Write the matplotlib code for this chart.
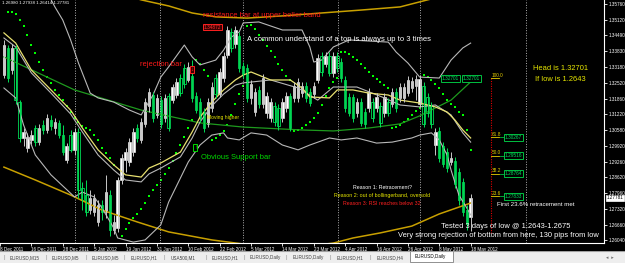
import numpy as np
import matplotlib
matplotlib.use("Agg")
import matplotlib.pyplot as plt
from matplotlib.patches import Rectangle

plt.rcParams['font.family'] = ['Liberation Sans', 'DejaVu Sans']

# EURUSD daily candles, Dec 2011 - 18 May 2012
opens = [1.3283, 1.3395, 1.3304, 1.3395, 1.3172, 1.3024, 1.2983, 1.3016, 1.3065, 1.3007,
         1.3078, 1.3057, 1.3098, 1.3065, 1.3086, 1.3036, 1.2933, 1.3036, 1.2975, 1.3049,
         1.2818, 1.2789, 1.2727, 1.2719, 1.2678, 1.2748, 1.2719, 1.2789, 1.2645, 1.2653,
         1.2851, 1.2933, 1.2925, 1.2966, 1.3065, 1.3016, 1.3082, 1.3156, 1.3201, 1.3119,
         1.3180, 1.3106, 1.3197, 1.3180, 1.3201, 1.3271, 1.3312, 1.3263, 1.3279, 1.3197,
         1.3172, 1.3131, 1.3082, 1.3148, 1.3271, 1.3205, 1.3271, 1.3366, 1.3461, 1.3411,
         1.3444, 1.3321, 1.3312, 1.3189, 1.3131, 1.3222, 1.3164, 1.3127, 1.3106, 1.3156,
         1.3148, 1.3106, 1.3148, 1.3197, 1.3189, 1.3189, 1.3209, 1.3238, 1.3213, 1.3205,
         1.3263, 1.3362, 1.3329, 1.3362, 1.3292, 1.3362, 1.3337, 1.3263, 1.3193, 1.3193,
         1.3127, 1.3172, 1.3131, 1.3148, 1.3172, 1.3148, 1.3156, 1.3127, 1.3172, 1.3164,
         1.3213, 1.3189, 1.3189, 1.3209, 1.3230, 1.3238, 1.3164, 1.3238, 1.3193, 1.3156,
         1.2995, 1.3053, 1.2991, 1.2966, 1.2925, 1.2929, 1.2884, 1.2843, 1.2727, 1.26980]
highs = [1.3428, 1.3407, 1.3411, 1.3407, 1.3180, 1.3065, 1.3045, 1.3057, 1.3078, 1.3082,
         1.3098, 1.3123, 1.3119, 1.3106, 1.3098, 1.3078, 1.3003, 1.3057, 1.3065, 1.3065,
         1.2843, 1.2851, 1.2810, 1.2793, 1.2769, 1.2769, 1.2872, 1.2810, 1.2707, 1.2863,
         1.2958, 1.2983, 1.3024, 1.3065, 1.3082, 1.3106, 1.3189, 1.3230, 1.3213, 1.3205,
         1.3197, 1.3205, 1.3209, 1.3246, 1.3271, 1.3288, 1.3329, 1.3337, 1.3345, 1.3213,
         1.3189, 1.3148, 1.3189, 1.3255, 1.3288, 1.3312, 1.3378, 1.3485, 1.3477, 1.3487,
         1.3461, 1.3337, 1.3329, 1.3263, 1.3230, 1.3238, 1.3288, 1.3213, 1.3189, 1.3172,
         1.3164, 1.3189, 1.3213, 1.3209, 1.3255, 1.3271, 1.3255, 1.3255, 1.3230, 1.3255,
         1.3370, 1.3378, 1.3378, 1.3378, 1.3378, 1.3378, 1.3354, 1.3279, 1.3209, 1.3205,
         1.3189, 1.3189, 1.3148, 1.3230, 1.3189, 1.3209, 1.3172, 1.3209, 1.3189, 1.3230,
         1.3230, 1.3251, 1.3251, 1.3279, 1.3275, 1.3283, 1.3283, 1.3255, 1.3209, 1.3172,
         1.3065, 1.3069, 1.3007, 1.2983, 1.2966, 1.2946, 1.2900, 1.2859, 1.2748, 1.27938]
lows = [1.3271, 1.3255, 1.3288, 1.3164, 1.3007, 1.2991, 1.2966, 1.2999, 1.2991, 1.2995,
        1.3040, 1.3045, 1.3057, 1.3040, 1.3024, 1.2954, 1.2921, 1.2966, 1.2954, 1.2777,
        1.2727, 1.2703, 1.2711, 1.2703, 1.2661, 1.2686, 1.2694, 1.2620, 1.2628, 1.2637,
        1.2834, 1.2884, 1.2909, 1.2950, 1.3007, 1.3003, 1.3069, 1.3131, 1.3090, 1.3106,
        1.3065, 1.3090, 1.3053, 1.3168, 1.3189, 1.3197, 1.3230, 1.3255, 1.3172, 1.3127,
        1.3090, 1.3049, 1.3069, 1.3131, 1.3189, 1.3193, 1.3255, 1.3354, 1.3378, 1.3395,
        1.3296, 1.3271, 1.3172, 1.3164, 1.3115, 1.3148, 1.3148, 1.3106, 1.3090, 1.3073,
        1.3057, 1.3090, 1.3131, 1.3053, 1.3172, 1.3172, 1.3193, 1.3172, 1.3156, 1.3189,
        1.3251, 1.3279, 1.3316, 1.3279, 1.3275, 1.3296, 1.3255, 1.3131, 1.3115, 1.3090,
        1.3110, 1.3073, 1.3065, 1.3131, 1.3090, 1.3131, 1.3069, 1.3110, 1.3115, 1.3152,
        1.3131, 1.3172, 1.3172, 1.3197, 1.3213, 1.3180, 1.3152, 1.3069, 1.3110, 1.3065,
        1.2954, 1.2925, 1.2904, 1.2884, 1.2913, 1.2818, 1.2748, 1.2703, 1.2645, 1.26414]
closes = [1.3407, 1.3271, 1.3395, 1.3180, 1.3024, 1.3049, 1.3028, 1.3036, 1.3007, 1.3065,
          1.3057, 1.3106, 1.3073, 1.3090, 1.3036, 1.2966, 1.2991, 1.2975, 1.3049, 1.2810,
          1.2769, 1.2719, 1.2777, 1.2777, 1.2748, 1.2719, 1.2801, 1.2645, 1.2678, 1.2851,
          1.2942, 1.2966, 1.3007, 1.3049, 1.3024, 1.3090, 1.3172, 1.3213, 1.3106, 1.3189,
          1.3082, 1.3189, 1.3065, 1.3234, 1.3255, 1.3209, 1.3246, 1.3316, 1.3189, 1.3139,
          1.3106, 1.3065, 1.3172, 1.3234, 1.3205, 1.3296, 1.3362, 1.3469, 1.3395, 1.3469,
          1.3312, 1.3288, 1.3189, 1.3246, 1.3213, 1.3164, 1.3271, 1.3197, 1.3172, 1.3090,
          1.3073, 1.3172, 1.3197, 1.3065, 1.3238, 1.3255, 1.3238, 1.3189, 1.3168, 1.3238,
          1.3354, 1.3296, 1.3362, 1.3292, 1.3362, 1.3312, 1.3271, 1.3148, 1.3127, 1.3106,
          1.3172, 1.3086, 1.3082, 1.3213, 1.3106, 1.3193, 1.3086, 1.3193, 1.3127, 1.3213,
          1.3148, 1.3234, 1.3234, 1.3263, 1.3259, 1.3267, 1.3267, 1.3082, 1.3127, 1.3082,
          1.3049, 1.2942, 1.2917, 1.2900, 1.2942, 1.2834, 1.2769, 1.2719, 1.2670, 1.27781]

# indicator lines, (bar, price)
bb_up_bars = [11, 13, 15, 17, 19, 22, 24, 28, 32, 35, 38, 40, 42, 46, 48, 50, 54, 56, 58, 60,
              61, 65, 71, 76, 78, 79, 81, 84, 88, 98, 100, 103, 106, 111, 114, 117, 119]
bb_up_vals = [1.3625, 1.3564, 1.3510, 1.3428, 1.3333, 1.3209, 1.3189, 1.3172, 1.3139, 1.3119,
              1.3201, 1.3275, 1.3317, 1.3407, 1.3358, 1.3325, 1.3345, 1.3386, 1.3440, 1.3461,
              1.3498, 1.3502, 1.3469, 1.3469, 1.3399, 1.3337, 1.3345, 1.3399, 1.3428, 1.3419,
              1.3378, 1.3333, 1.3275, 1.3271, 1.3345, 1.3395, 1.3415]
bb_low_bars = [0, 3, 5, 8, 12, 18, 20, 23, 25, 28, 29, 33, 36, 40, 42, 45, 47, 50, 53, 56,
               57, 60, 63, 67, 71, 75, 78, 83, 86, 90, 95, 99, 104, 106, 109, 111, 113, 114,
               116, 118, 119]
bb_low_vals = [1.3230, 1.3189, 1.3078, 1.2954, 1.2872, 1.2781, 1.2801, 1.2781, 1.2736, 1.2653,
               1.2612, 1.2595, 1.2604, 1.2666, 1.2760, 1.2859, 1.2925, 1.2995, 1.3036, 1.3045,
               1.3024, 1.3016, 1.3045, 1.3036, 1.2995, 1.2975, 1.2995, 1.3024, 1.3016, 1.3024,
               1.3003, 1.3007, 1.3024, 1.3036, 1.3045, 1.3016, 1.2954, 1.2892, 1.2789, 1.2736,
               1.2707]
bb_mid_bars = [0, 3, 7, 12, 17, 20, 24, 28, 31, 35, 37, 40, 45, 48, 50, 53, 56, 59, 61, 68,
               75, 80, 84, 90, 97, 101, 106, 110, 114, 117, 119]
bb_mid_vals = [1.3436, 1.3399, 1.3292, 1.3209, 1.3123, 1.3049, 1.2954, 1.2892, 1.2851, 1.2843,
               1.2876, 1.2900, 1.2946, 1.3024, 1.3090, 1.3156, 1.3205, 1.3242, 1.3251, 1.3263,
               1.3230, 1.3180, 1.3234, 1.3234, 1.3189, 1.3160, 1.3152, 1.3160, 1.3119, 1.3045,
               1.3007]
ma_bars = [0, 3, 7, 12, 17, 20, 24, 28, 31, 35, 37, 40, 45, 48, 50, 53, 56, 59, 61, 63,
           68, 73, 76, 78, 83, 85, 89, 93, 98, 101, 106, 110, 113, 115, 117, 119]
ma_vals = [1.3457, 1.3415, 1.3304, 1.3222, 1.3139, 1.3065, 1.2975, 1.2913, 1.2872, 1.2863,
           1.2900, 1.2921, 1.2966, 1.3049, 1.3110, 1.3172, 1.3222, 1.3263, 1.3283, 1.3296,
           1.3263, 1.3263, 1.3230, 1.3193, 1.3189, 1.3222, 1.3222, 1.3209, 1.3201, 1.3180,
           1.3168, 1.3152, 1.3131, 1.3098, 1.3057, 1.3024]
long_mid_bars = [0, 18, 35, 50, 61, 76, 84, 93, 101, 106, 114, 119]
long_mid_vals = [1.3358, 1.3222, 1.3139, 1.3086, 1.3069, 1.3057, 1.3053, 1.3065, 1.3082, 1.3115,
                 1.3180, 1.3255]
long_up_bars = [30, 35, 42, 48, 54, 62, 71, 81, 91, 101, 108, 114]
long_up_vals = [1.3617, 1.3593, 1.3568, 1.3539, 1.3523, 1.3518, 1.3527, 1.3539, 1.3551, 1.3564,
                1.3593, 1.3617]
long_low_bars = [0, 8, 17, 25, 34, 42, 53, 63, 76, 84, 89, 96, 104, 111, 119]
long_low_vals = [1.2904, 1.2851, 1.2789, 1.2727, 1.2678, 1.2637, 1.2604, 1.2583, 1.2575, 1.2591,
                 1.2612, 1.2633, 1.2661, 1.2711, 1.2756]

# parabolic SAR dots (no dot on bar 29)
sar_bars = [b for b in range(1, 120) if b != 29]
sar_vals = [1.3543, 1.3543, 1.3535, 1.3510, 1.3485, 1.3448, 1.3407, 1.3374, 1.3337, 1.3304,
            1.3275, 1.3251, 1.3222, 1.3201, 1.3180, 1.3156, 1.3131, 1.3106, 1.3090, 1.3073,
            1.3065, 1.3057, 1.3036, 1.3016, 1.2983, 1.2962, 1.2942, 1.2913,
            1.2620, 1.2649, 1.2674, 1.2694, 1.2711, 1.2731, 1.2756, 1.2785, 1.2810, 1.2830,
            1.2851, 1.2876, 1.2900, 1.2929, 1.2962, 1.2995, 1.3028, 1.3065, 1.3098,
            1.3345, 1.3329, 1.3304, 1.3279,
            1.3016, 1.3024, 1.3036, 1.3053, 1.3078, 1.3119, 1.3164, 1.3205, 1.3238,
            1.3485, 1.3490, 1.3473, 1.3448, 1.3428, 1.3403, 1.3382, 1.3358, 1.3329, 1.3304,
            1.3279, 1.3263,
            1.3053, 1.3057, 1.3065, 1.3078, 1.3090, 1.3106, 1.3127, 1.3160, 1.3197, 1.3230,
            1.3255, 1.3271,
            1.3378, 1.3378, 1.3370, 1.3358, 1.3345, 1.3329, 1.3312, 1.3296, 1.3279, 1.3267,
            1.3255, 1.3242, 1.3230,
            1.3065, 1.3069, 1.3078, 1.3090, 1.3102, 1.3119, 1.3135, 1.3148,
            1.3283, 1.3275, 1.3263, 1.3246, 1.3230, 1.3205, 1.3180, 1.3164, 1.3152, 1.3131,
            1.3119, 1.3057, 1.2975]

date_bars = list(range(-1, 120, 8))
date_labels = ['8 Dec 2011', '16 Dec 2011', '28 Dec 2011', '5 Jan 2012', '19 Jan 2012',
               '31 Jan 2012', '10 Feb 2012', '22 Feb 2012', '5 Mar 2012', '14 Mar 2012',
               '23 Mar 2012', '4 Apr 2012', '16 Apr 2012', '26 Apr 2012', '8 May 2012',
               '18 May 2012']
price_ticks = [1.35760, 1.35120, 1.34490, 1.33830, 1.33180, 1.32520, 1.31860, 1.31220,
               1.30580, 1.29920, 1.29260, 1.28620, 1.27960, 1.27320, 1.26660, 1.26040]
separator_bars = [18, 39.8, 60.9, 85.3, 106.1, 133]

fib_levels = ['100.0', '61.8', '50.0', '38.2', '23.6']
fib_prices = [1.32701, 1.30267, 1.29516, 1.28764, 1.27833]
fib_bottom = 1.2633
fib_bar = 124.1

tabs = ['EURUSD,M15', 'EURUSD,M5', 'EURUSD,M5', 'EURUSD,H1', 'USA500,M1', 'EURUSD,H1',
        'EURUSD,Daily', 'EURUSD,Daily', 'EURUSD,H1', 'EURUSD,H4']
tab_x = [10, 52, 92, 131, 171, 212, 250, 293, 337, 377]

W, H = 625, 263
fig = plt.figure(figsize=(W / 100, H / 100), dpi=100)
fig.patch.set_facecolor('black')
ax = fig.add_axes([0, 20 / H, 604 / W, 243 / H])
ax.set_facecolor('black')
ax.set_xlim(-0.28, 153.0)
ax.set_ylim(1.25913, 1.35925)

for s in ['top', 'left']:
    ax.spines[s].set_visible(False)
for s in ['right', 'bottom']:
    ax.spines[s].set_color('white')
    ax.spines[s].set_linewidth(0.8)

# month separators
for b in separator_bars:
    ax.axvline(b, color='#b0b0b0', lw=0.7, ls=(0, (1, 1.6)))

# long-period band (gold) and its middle line (green)
ax.plot(long_up_bars, long_up_vals, color='#c8a000', lw=1.1)
ax.plot(long_low_bars, long_low_vals, color='#c8a000', lw=1.1)
ax.plot(long_mid_bars, long_mid_vals, color='#1e9a1e', lw=0.9)

# bollinger bands
ax.plot(bb_up_bars, bb_up_vals, color='#b8b8b8', lw=0.8)
ax.plot(bb_low_bars, bb_low_vals, color='#b8b8b8', lw=0.8)
ax.plot(bb_mid_bars, bb_mid_vals, color='#b8b8b8', lw=0.8)
ax.plot(ma_bars, ma_vals, color='#e8e070', lw=0.9)

# candles
o = np.array(opens); c = np.array(closes)
hi = np.array(highs); lo = np.array(lows)
x = np.arange(len(c))
up = c >= o
ax.vlines(x[up], lo[up], hi[up], color='#c8c8c8', lw=0.7)
ax.vlines(x[~up], lo[~up], hi[~up], color='#00dd55', lw=0.7)
ax.bar(x[up], c[up] - o[up], bottom=o[up], width=0.62, color='white', edgecolor='white', lw=0.4)
ax.bar(x[~up], c[~up] - o[~up], bottom=o[~up], width=0.62, color='black', edgecolor='#00dd55', lw=0.6)

# parabolic SAR
ax.scatter(sar_bars, sar_vals, s=2.4, color='#00ff00', marker='s', lw=0)

# fibonacci retracement
ax.plot([fib_bar, fib_bar], [fib_prices[0], fib_bottom], color='#e00000', lw=0.8, ls=(0, (1, 1.2)))
for lab, p in zip(fib_levels, fib_prices):
    ax.plot([fib_bar, fib_bar + 2.2], [p, p], color='#e8d000', lw=0.6)
    ax.text(fib_bar + 0.3, p + 0.0002, lab, color='#e8d000', fontsize=3.4, va='bottom', ha='left')
box = dict(boxstyle='square,pad=0.18', fc='black', ec='#00c040', lw=0.7)
for p in fib_prices[1:]:
    ax.plot([fib_bar + 2.4, fib_bar + 3.4], [p, p], color='#00c040', lw=0.6)
    ax.text(fib_bar + 3.6, p, '%.5f' % p, color='#00e060', fontsize=3.4, va='center', ha='left', bbox=box)
for bx in [111.6, 117.0]:
    ax.text(bx, fib_prices[0], '%.5f' % fib_prices[0], color='#00e060', fontsize=3.4,
            va='center', ha='left', bbox=box)

# annotations
fs = 5.4
ax.text(50.7, 1.3527, 'resistance bar at upper boller band', color='#ff1a1a', fontsize=fs, va='center')
ax.text(53.1, 1.3481, '1.34872', color='#ff3030', fontsize=3.4, va='center', ha='center',
        bbox=dict(boxstyle='square,pad=0.15', fc='#3a0000', ec='#ff2020', lw=0.7))
ax.text(61.9, 1.3428, 'A common understand of a top is always up to 3 times', color='white',
        fontsize=5.5, va='center')
ax.text(34.8, 1.3325, 'rejection bar', color='#ff1a1a', fontsize=fs, va='center')
ax.text(48.0, 1.3306, '\u2193', color='#ff3030', fontsize=4.2, va='center', ha='center',
        bbox=dict(boxstyle='square,pad=0.1', fc='#3a0000', ec='#ff2020', lw=0.7))
ax.text(51.8, 1.3108, 'Moving higher', color='#e8e800', fontsize=3.6, va='center')
ax.text(48.8, 1.2985, '\u2191', color='#00dd00', fontsize=4.2, va='center', ha='center',
        bbox=dict(boxstyle='square,pad=0.1', fc='black', ec='#00dd00', lw=0.7))
ax.text(50.2, 1.2942, 'Obvious Support bar', color='#00dd00', fontsize=fs, va='center')
ax.text(96.4, 1.2822, 'Reason 1: Retracement?', color='white', fontsize=3.8, va='center', ha='center')
ax.text(96.4, 1.2785, 'Reason 2: out of bollingerband, oversold', color='#e8e800', fontsize=3.8,
        va='center', ha='center')
ax.text(96.4, 1.2752, 'Reason 3: RSI reaches below 32', color='#ff2020', fontsize=3.8,
        va='center', ha='center')
ax.text(135.0, 1.3312, 'Head is 1.32701', color='#e8e800', fontsize=5.4, va='center')
ax.text(135.5, 1.3263, 'If low is 1.2643', color='#e8e800', fontsize=5.4, va='center')
ax.text(125.6, 1.2748, 'First 23.6% retracement met', color='white', fontsize=4.4, va='center')
ax.text(111.4, 1.2661, 'Tested 3 days of low @ 1.2643-1.2675', color='white', fontsize=5.4, va='center')
ax.text(100.5, 1.2624, 'Very strong rejection of bottom from here, 130 pips from low', color='white',
        fontsize=5.4, va='center')
ax.text(0.004, 0.995, '%.5f %.5f %.5f %.5f' % (opens[-1], highs[-1], lows[-1], closes[-1]),
        transform=ax.transAxes, color='white', fontsize=3.2, va='top')

# axes ticks
ax.yaxis.tick_right()
ax.set_yticks(price_ticks)
ax.set_yticklabels(['%.5f' % t for t in price_ticks])
ax.tick_params(axis='y', colors='white', labelsize=3.3, length=2, width=0.6, pad=1.5)
ax.set_xticks(date_bars)
ax.set_xticklabels(date_labels, ha='left')
ax.tick_params(axis='x', colors='white', labelsize=3.3, length=2, width=0.6, pad=1.2)

# current price marker
ax.text(1.004, closes[-1], '%.5f' % closes[-1], transform=ax.get_yaxis_transform(), color='black',
        fontsize=3.3, va='center', ha='left',
        bbox=dict(boxstyle='square,pad=0.12', fc='white', ec='white', lw=0.5))

# tab bar
tab_ax = fig.add_axes([0, 0, 1, 12 / H])
tab_ax.set_facecolor('#eeeeee')
tab_ax.set_xlim(0, W)
tab_ax.set_ylim(0, 12)
tab_ax.set_xticks([]); tab_ax.set_yticks([])
for s in tab_ax.spines.values():
    s.set_visible(False)
tab_ax.axhline(12, color='#a0a0a0', lw=0.8)
for name, tx in zip(tabs, tab_x):
    tab_ax.text(tx - 7, 5.5, '|', color='#909090', fontsize=4, va='center')
    tab_ax.text(tx, 5.5, name, color='#404040', fontsize=3.3, va='center')
tab_ax.add_patch(Rectangle((410, 1.5), 43, 10.5, fc='white', ec='#808080', lw=0.6))
tab_ax.text(415, 6.5, 'EURUSD,Daily', color='black', fontsize=3.3, va='center')
tab_ax.text(606, 5.5, '\u25c2  \u25b8', color='#707070', fontsize=3.5, va='center')

fig.savefig('out.png', dpi=100, facecolor='black')
